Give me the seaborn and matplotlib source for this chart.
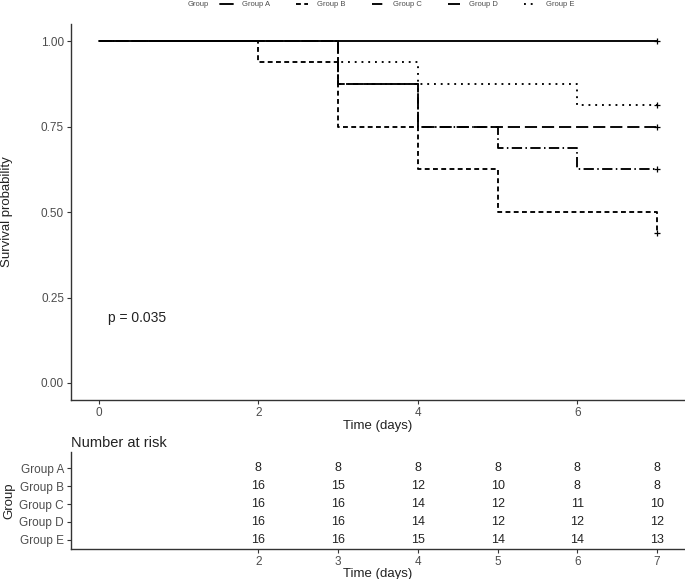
import matplotlib
matplotlib.use("Agg")
import matplotlib.pyplot as plt
import numpy as np
import pandas as pd
import seaborn as sns

# survival curves (step values at each time)
times = [0, 2, 3, 4, 5, 6, 7]
groups = ["Group A", "Group B", "Group C", "Group D", "Group E"]
surv_a = [1.0, 1.0, 1.0, 1.0, 1.0, 1.0, 1.0]
surv_b = [1.0, 0.9375, 0.75, 0.625, 0.5, 0.5, 0.4375]
surv_c = [1.0, 1.0, 0.875, 0.75, 0.6875, 0.625, 0.625]
surv_d = [1.0, 1.0, 0.875, 0.75, 0.75, 0.75, 0.75]
surv_e = [1.0, 1.0, 0.9375, 0.875, 0.875, 0.8125, 0.8125]

# number at risk table
risk_times = [2, 3, 4, 5, 6, 7]
risk_a = [8, 8, 8, 8, 8, 8]
risk_b = [16, 15, 12, 10, 8, 8]
risk_c = [16, 16, 14, 12, 11, 10]
risk_d = [16, 16, 14, 12, 12, 12]
risk_e = [16, 16, 15, 14, 14, 13]

p_text = "p = 0.035"

surv = [surv_a, surv_b, surv_c, surv_d, surv_e]
risk = [risk_a, risk_b, risk_c, risk_d, risk_e]

df = pd.DataFrame({
    "time": np.tile(times, len(groups)),
    "surv": np.concatenate(surv),
    "group": np.repeat(groups, len(times)),
})
last = df.groupby("group").tail(1)

sns.set_theme(style="ticks")
plt.rcParams["font.family"] = ["Liberation Sans", "DejaVu Sans"]
grey = "#4d4d4d"
axcol = "#333333"

fig = plt.figure(figsize=(6.85, 5.79), dpi=100)
ax = fig.add_axes([0.1036, 0.309, 0.8964, 0.6495])
ax_t = fig.add_axes([0.1036, 0.052, 0.8964, 0.167])

dashes = {
    "Group A": "",
    "Group B": (2.6, 1.8),
    "Group C": (5.5, 1.8, 0.8, 1.8),
    "Group D": (6.5, 2.6),
    "Group E": (1, 2.6),
}
sns.lineplot(data=df, x="time", y="surv", style="group", style_order=groups,
             dashes=dashes, color="black", lw=1.35, drawstyle="steps-post",
             estimator=None, sort=False, ax=ax)
sns.scatterplot(data=last, x="time", y="surv", marker="+", color="black",
                s=22, linewidth=0.9, legend=False, ax=ax)

handles, labels = ax.get_legend_handles_labels()
ax.get_legend().remove()
leg = fig.legend(handles, labels, loc="center", bbox_to_anchor=(0.58, 0.992),
                 ncol=5, frameon=False, fontsize=5.5, handlelength=1.6,
                 columnspacing=3.4, handletextpad=1.2, borderpad=0)
fig.text(0.274, 0.992, "Group", fontsize=5.5, color=grey, va="center", ha="left")
for t in leg.get_texts():
    t.set_color(grey)

ax.set_xlim(-0.35, 7.35)
ax.set_ylim(-0.05, 1.05)
ax.set_xticks([0, 2, 4, 6])
ax.set_yticks([0, 0.25, 0.5, 0.75, 1.0])
ax.set_yticklabels(["0.00", "0.25", "0.50", "0.75", "1.00"])
ax.set_xlabel("Time (days)", fontsize=9.5, labelpad=1, color="#222222")
ax.set_ylabel("Survival probability", fontsize=9.5, labelpad=20, color="#222222")
ax.text(0.12, 0.19, p_text, fontsize=10, ha="left", va="center", color="#222222")

# risk table
for i, (g, r) in enumerate(zip(groups, risk)):
    ypos = len(groups) - 1 - i
    for t, n in zip(risk_times, r):
        ax_t.text(t, ypos, str(n), ha="center", va="center", fontsize=9, color="#222222")
ax_t.set_xlim(-0.35, 7.35)
ax_t.set_ylim(-0.5, 4.89)
ax_t.set_xticks(risk_times)
ax_t.set_yticks(range(len(groups)))
ax_t.set_yticklabels(groups[::-1])
ax_t.set_xlabel("Time (days)", fontsize=9.5, labelpad=0, color="#222222")
ax_t.set_ylabel("Group", fontsize=9.5, labelpad=3, color="#222222")
ax_t.set_title("Number at risk", loc="left", fontsize=10.5, pad=4, color="#222222")

for a in (ax, ax_t):
    sns.despine(ax=a)
    for s in ("left", "bottom"):
        a.spines[s].set_color(axcol)
        a.spines[s].set_linewidth(1.0)
    a.tick_params(length=3, width=0.8, color=axcol, labelsize=8.5,
                  labelcolor=grey, pad=2)

fig.savefig("out.png", dpi=100)
